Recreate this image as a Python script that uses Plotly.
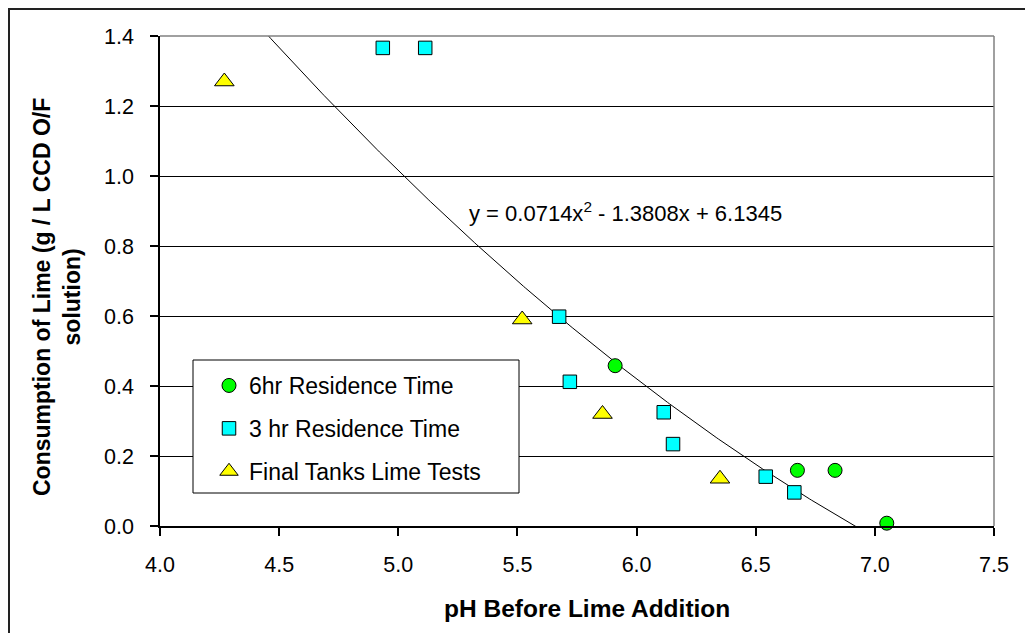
import numpy as np
import plotly.graph_objects as go

# ---- data ----
six_hr_ph = [5.91, 6.675, 6.833, 7.05]
six_hr_lime = [0.458, 0.159, 0.159, 0.008]

three_hr_ph = [4.935, 5.113, 5.675, 5.72, 6.114, 6.153, 6.542, 6.662]
three_hr_lime = [1.366, 1.366, 0.598, 0.412, 0.325, 0.234, 0.141, 0.096]

final_ph = [4.27, 5.52, 5.857, 6.35]
final_lime = [1.27, 0.59, 0.32, 0.135]

trend_coef = [0.0714, -1.3808, 6.1345]   # y = a x^2 + b x + c

x_ticks = [4.0, 4.5, 5.0, 5.5, 6.0, 6.5, 7.0, 7.5]
y_ticks = [0.0, 0.2, 0.4, 0.6, 0.8, 1.0, 1.2, 1.4]

series_names = ["6hr Residence Time", "3 hr Residence Time", "Final Tanks Lime Tests"]

FONT = "Arial, Liberation Sans, sans-serif"

all_x = six_hr_ph + three_hr_ph + final_ph
tx = np.linspace(min(all_x), max(all_x), 300)
ty = np.polyval(trend_coef, tx)

fig = go.Figure()

fig.add_trace(go.Scatter(x=tx, y=ty, mode="lines", line=dict(color="black", width=1),
                         showlegend=False, hoverinfo="skip"))

fig.add_trace(go.Scatter(x=six_hr_ph, y=six_hr_lime, mode="markers", name=series_names[0],
                         legendgroup="a", cliponaxis=False,
                         marker=dict(symbol="circle", size=14, color="#00FF00",
                                     line=dict(color="black", width=1))))
fig.add_trace(go.Scatter(x=three_hr_ph, y=three_hr_lime, mode="markers", name=series_names[1],
                         legendgroup="b", cliponaxis=False,
                         marker=dict(symbol="square", size=13.5, color="#00FFFF",
                                     line=dict(color="black", width=1))))
fig.add_trace(go.Scatter(x=final_ph, y=final_lime, mode="markers", name=series_names[2],
                         legendgroup="c", cliponaxis=False,
                         marker=dict(symbol="triangle-up", size=17, color="#FFFF00",
                                     line=dict(color="black", width=1))))

# The page body adds an 8px offset; work in screen pixels and convert.
OFF = 8
W, H = 1033 - OFF, 633 - OFF
L, R, T, B = 160 - OFF, 994 - OFF, 36 - OFF, 526 - OFF
def px(xs):
    return (xs - OFF - L) / (R - L)
def py(ys):
    return (B - (ys - OFF)) / (B - T)

a, b, c = trend_coef
eq_text = f"y = {a:.4f}x<sup>2</sup> - {abs(b):.4f}x + {c:.4f}"

fig.update_layout(
    width=W, height=H,
    margin=dict(l=L, r=W - R, t=T, b=H - B),
    paper_bgcolor="white", plot_bgcolor="white",
    font=dict(family=FONT, size=21, color="black"),
    xaxis=dict(range=[4.0, 7.5], tickvals=x_ticks, tickformat=".1f",
               showgrid=False, zeroline=False, showline=True, linecolor="black", linewidth=1.5,
               ticks="outside", ticklen=8, tickwidth=1.5, tickcolor="black",
               tickfont=dict(size=21.5), ticklabelstandoff=10),
    yaxis=dict(range=[0.0, 1.4], tickvals=y_ticks, tickformat=".1f",
               showgrid=True, gridcolor="black", gridwidth=1.3, zeroline=False,
               showline=True, linecolor="black", linewidth=1.5,
               ticks="outside", ticklen=8, tickwidth=1.5, tickcolor="black",
               tickfont=dict(size=21.5), ticklabelstandoff=12),
    showlegend=True,
    legend=dict(x=px(209), y=py(364), xanchor="left", yanchor="top",
                bgcolor="rgba(0,0,0,0)", borderwidth=0,
                font=dict(family=FONT, size=23), tracegroupgap=10, itemwidth=30),
    shapes=[
        # outer chart border (extends past image right/bottom)
        dict(type="rect", xref="paper", yref="paper",
             x0=px(9), x1=px(1060), y0=py(660), y1=py(9),
             line=dict(color="#222222", width=2), fillcolor="rgba(0,0,0,0)", layer="below"),
        # plot area top & right border (gray)
        dict(type="line", xref="paper", yref="paper", x0=0, x1=1, y0=1, y1=1,
             line=dict(color="#808080", width=1.5), layer="above"),
        dict(type="line", xref="paper", yref="paper", x0=1, x1=1, y0=0, y1=1,
             line=dict(color="#808080", width=1.5), layer="above"),
        # legend box
        dict(type="rect", xref="paper", yref="paper",
             x0=px(193), x1=px(519), y0=py(493), y1=py(360),
             line=dict(color="black", width=1), fillcolor="white", layer="above"),
    ],
    annotations=[
        dict(text=eq_text, xref="x", yref="y", x=5.29, y=0.897, xanchor="left", yanchor="middle",
             showarrow=False, font=dict(family=FONT, size=22)),
        dict(text="<b>pH Before Lime Addition</b>", xref="paper", yref="paper",
             x=px(587), y=py(608), xanchor="center", yanchor="middle",
             showarrow=False, font=dict(family=FONT, size=24.5)),
        dict(text="<b>Consumption of Lime (g / L CCD O/F<br>solution)</b>", xref="paper", yref="paper",
             x=px(57), y=py(297), xanchor="center", yanchor="middle", textangle=-90,
             showarrow=False, font=dict(family=FONT, size=23)),
    ],
)

fig.write_html("out.html")
